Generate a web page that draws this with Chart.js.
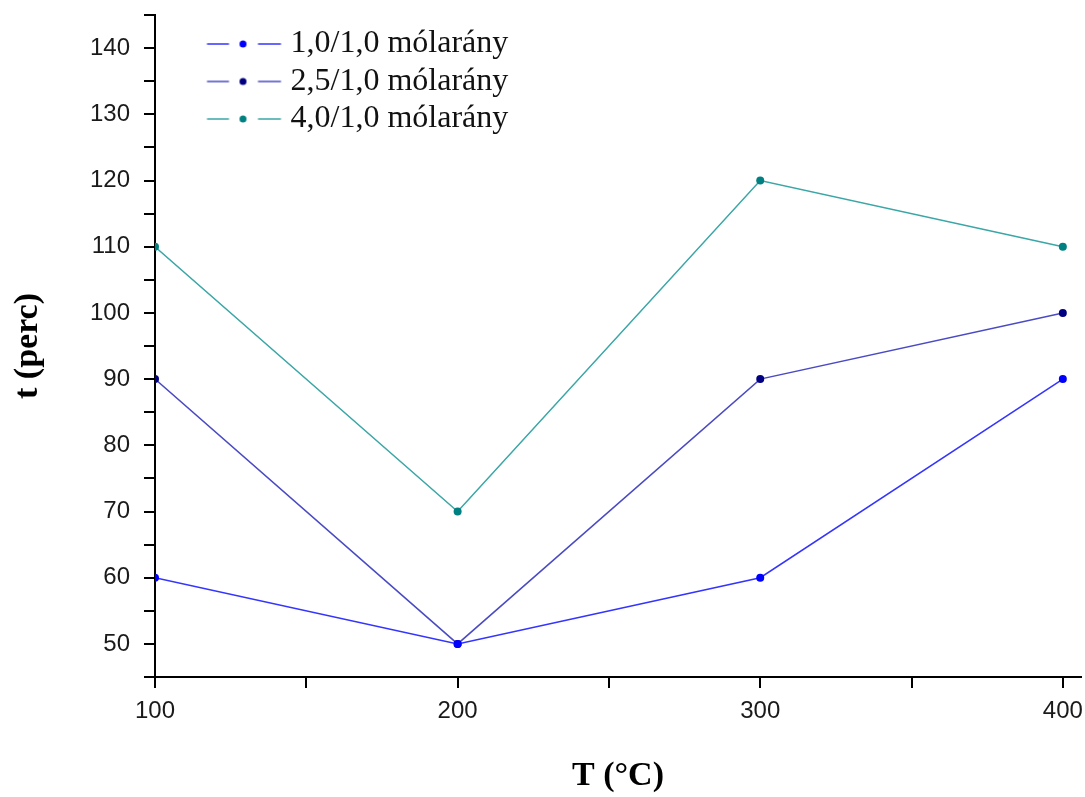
<!DOCTYPE html>
<html><head><meta charset="utf-8">
<script src="https://cdn.jsdelivr.net/npm/chart.js@4.4.1/dist/chart.umd.min.js"></script>
<style>html,body{margin:0;padding:0;background:#fff;}canvas{display:block;}</style>
</head><body>
<canvas id="c" width="1085" height="797"></canvas>
<script>
// ---- data ----
const temperatures = [100, 200, 300, 400];
const seriesLabels = ['1,0/1,0 mólarány', '2,5/1,0 mólarány', '4,0/1,0 mólarány'];
const ratio10 = [60, 50, 60, 90];
const ratio25 = [90, 50, 90, 100];
const ratio40 = [110, 70, 120, 110];
const xTickLabels = [100, 200, 300, 400];
const yTickLabels = [50, 60, 70, 80, 90, 100, 110, 120, 130, 140];
const xAxisTitle = 'T (°C)';
const yAxisTitle = 't (perc)';

// ---- styles ----
const lineColors = ['#3434ff', '#4a4ac4', '#3aa6a6'];
const pointColors = ['#0000ff', '#000080', '#008080'];
const LEG_PAD = 5.5;
const LEG_BOX = 114;
const ICON_W = 130;

function makeIcon(lineColor, pointColor) {
  const c = document.createElement('canvas');
  c.width = ICON_W; c.height = 14;
  const g = c.getContext('2d');
  g.strokeStyle = lineColor; g.lineWidth = 1.5;
  g.beginPath(); g.moveTo(54.5, 7); g.lineTo(76.5, 7); g.stroke();
  g.beginPath(); g.moveTo(105.5, 7); g.lineTo(128.5, 7); g.stroke();
  g.fillStyle = pointColor;
  g.beginPath(); g.arc(90.5, 7, 3.5, 0, Math.PI * 2); g.fill();
  return c;
}
const icons = lineColors.map((lc, i) => makeIcon(lc, pointColors[i]));

function toXY(values) { return temperatures.map((t, i) => ({x: t, y: values[i]})); }
const seriesValues = [ratio10, ratio25, ratio40];

const datasets = seriesValues.map((vals, i) => ({
  label: seriesLabels[i],
  data: toXY(vals),
  borderColor: lineColors[i],
  backgroundColor: pointColors[i],
  pointBackgroundColor: pointColors[i],
  pointBorderColor: pointColors[i],
  pointRadius: 4,
  pointBorderWidth: 0,
  borderWidth: 1.5,
  tension: 0,
  fill: false
}));

const tickFont = {family: '"Liberation Sans", Arial, sans-serif', size: 24};
const titleFont = {family: '"Liberation Serif", "Times New Roman", serif', size: 34, weight: 'bold'};

new Chart(document.getElementById('c'), {
  type: 'line',
  data: {datasets},
  options: {
    responsive: false,
    animation: false,
    devicePixelRatio: 1,
    layout: {padding: {top: 15, left: 0, right: 0, bottom: 0}},
    plugins: {
      tooltip: {enabled: false},
      legend: {
        position: 'chartArea',
        align: 'start',
        title: {display: true, text: '', font: {size: 10}, padding: {top: 10.5, bottom: 0}},
        labels: {
          usePointStyle: true,
          pointStyleWidth: LEG_BOX,
          padding: LEG_PAD,
          color: '#111',
          font: {family: '"Liberation Serif", "Times New Roman", serif', size: 32},
          generateLabels(chart) {
            return chart.data.datasets.map((ds, i) => ({
              text: ds.label,
              pointStyle: icons[i],
              fillStyle: pointColors[i],
              strokeStyle: lineColors[i],
              lineWidth: 0,
              hidden: false,
              datasetIndex: i,
              fontColor: '#111'
            }));
          }
        }
      }
    },
    scales: {
      x: {
        type: 'linear',
        min: 100,
        max: 406,
        afterBuildTicks(scale) {
          const t = [];
          for (let v = xTickLabels[0]; v <= xTickLabels[xTickLabels.length - 1]; v += 50) t.push({value: v});
          scale.ticks = t;
        },
        afterFit(scale) {
          scale.height = 120;
          scale.paddingLeft = 0; scale.paddingRight = 0;
        },
        border: {display: true, color: '#000', width: 2},
        grid: {display: true, drawOnChartArea: false, drawTicks: true, tickLength: 11, color: '#000', lineWidth: 2},
        ticks: {
          autoSkip: false,
          maxRotation: 0,
          padding: 9,
          color: '#1a1a1a',
          font: tickFont,
          callback: (v) => xTickLabels.includes(v) ? String(v) : ''
        },
        title: {display: true, text: xAxisTitle, color: '#000', font: titleFont, padding: {top: 0, bottom: 0}}
      },
      y: {
        type: 'linear',
        min: 45,
        max: 145,
        afterBuildTicks(scale) {
          const t = [];
          for (let v = 45; v <= 145; v += 5) t.push({value: v});
          scale.ticks = t;
        },
        afterFit(scale) {
          scale.width = 155;
          scale.paddingTop = 0; scale.paddingBottom = 0;
        },
        border: {display: true, color: '#000', width: 2},
        grid: {display: true, drawOnChartArea: false, drawTicks: true, tickLength: 11, color: '#000', lineWidth: 2},
        ticks: {
          autoSkip: false,
          padding: 14,
          color: '#1a1a1a',
          font: tickFont,
          callback: (v) => yTickLabels.includes(v) ? String(v) : ''
        },
        title: {display: true, text: yAxisTitle, color: '#000', font: titleFont, padding: {top: 8, bottom: 0}}
      }
    }
  }
});
</script>
</body></html>
